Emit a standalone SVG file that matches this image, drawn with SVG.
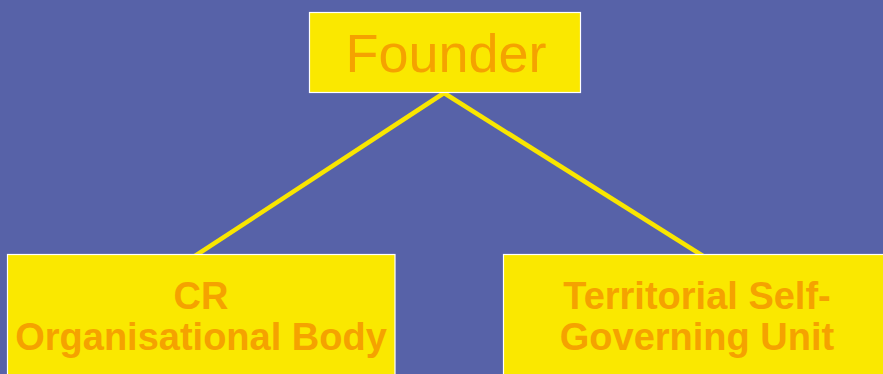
<svg xmlns="http://www.w3.org/2000/svg" width="883" height="374" viewBox="0 0 883 374">
<style>
.box{fill:#FAE800;stroke:#FFFFFF;stroke-width:1.2}
.t{fill:#F5A200;font-family:"Liberation Sans",Arial,sans-serif;text-anchor:middle}
.b{font-weight:bold;font-size:38px}
.conn{stroke:#F9E600;stroke-width:4.5;fill:none}
</style>
<rect width="883" height="374" fill="#5762A8"/>
<g id="connectors">
<line class="conn" x1="444" y1="93" x2="195" y2="256"/>
<line class="conn" x1="444" y1="93" x2="703" y2="256"/>
</g>
<g id="founder">
<rect class="box" x="309.5" y="12.5" width="271" height="80"/>
<text class="t" x="446" y="72" font-size="54">Founder</text>
</g>
<g id="cr">
<rect class="box" x="7.5" y="254.5" width="387.5" height="130"/>
<text class="t b" x="201" y="309">CR</text>
<text class="t b" x="201" y="350">Organisational Body</text>
</g>
<g id="tsgu">
<rect class="box" x="503.5" y="254.5" width="390" height="130"/>
<text class="t b" x="697" y="309">Territorial Self-</text>
<text class="t b" x="697" y="350">Governing Unit</text>
</g>
</svg>
